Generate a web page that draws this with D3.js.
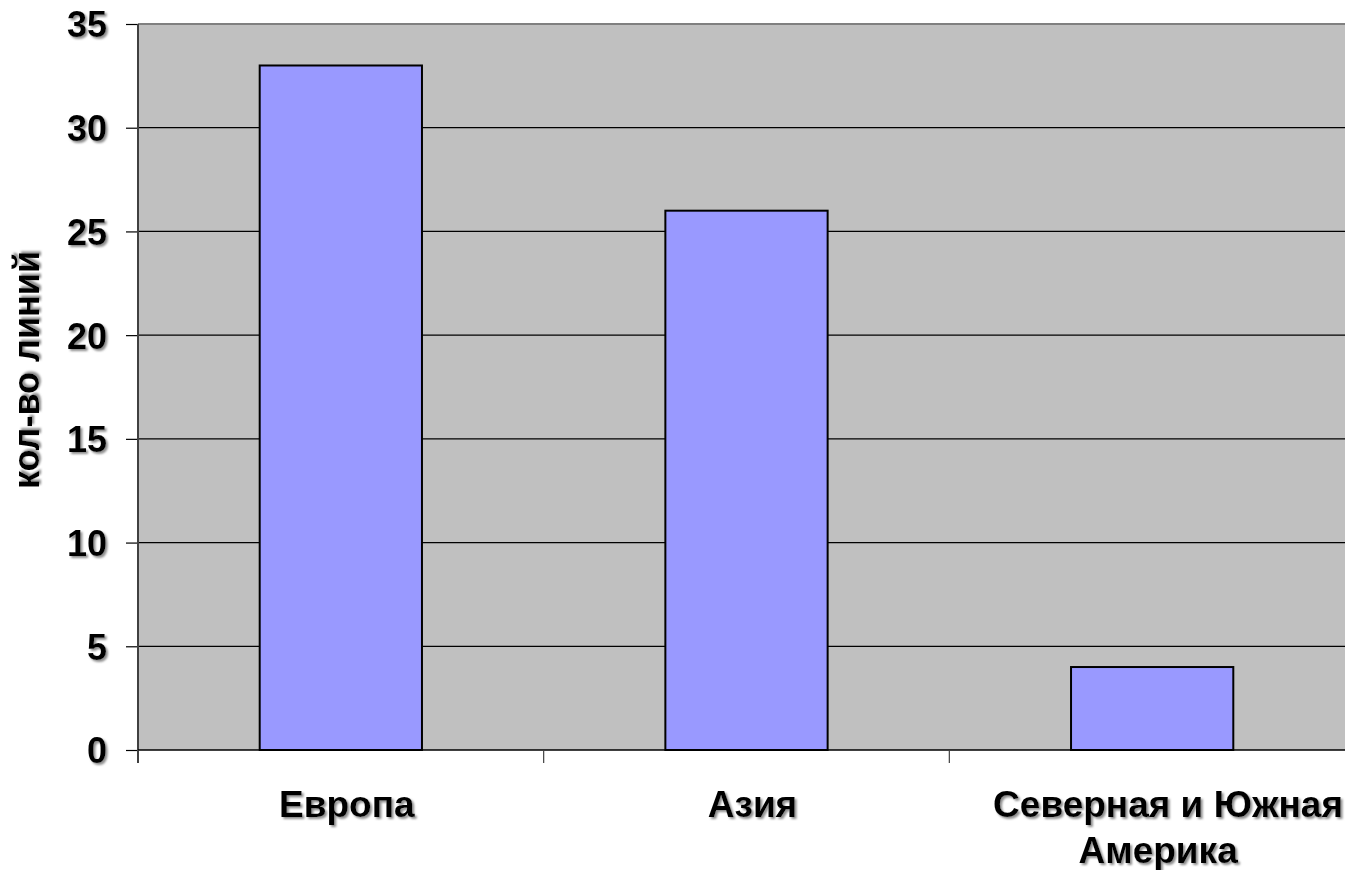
<!DOCTYPE html>
<html><head><meta charset="utf-8">
<script src="https://cdn.jsdelivr.net/npm/d3@7"></script>
<style>body{margin:0;background:#fff;overflow:hidden}svg{display:block}text{font-family:"Liberation Sans",Arial,sans-serif;font-weight:bold}</style>
</head><body>
<svg id="c" width="1345" height="870"></svg>
<script>
const categories = ["Европа", "Азия", "Северная и Южная Америка"];
const values = [33, 26, 4];
const yTicks = [0, 5, 10, 15, 20, 25, 30, 35];
const yTitle = "кол-во линий";

const svg = d3.select("#c");
const defs = svg.append("defs");
const f = defs.append("filter").attr("id","sh").attr("x","-10%").attr("y","-10%").attr("width","130%").attr("height","140%");
f.append("feDropShadow").attr("dx",2).attr("dy",2).attr("stdDeviation",0.8).attr("flood-color","#808080").attr("flood-opacity",0.9);

const L = 138, T = 24, B = 750, R = 1355;
const x = d3.scaleBand().domain(categories).range([L, R]).paddingInner(0.6).paddingOuter(0.3);
const y = d3.scaleLinear().domain([0, 35]).range([B, T]);
const step = x.step();
const slot0 = L;

// plot background
svg.append("rect").attr("x", L).attr("y", T).attr("width", R - L).attr("height", B - T).attr("fill", "#c0c0c0");

// gridlines
svg.append("g").selectAll("line").data(yTicks.filter(v => v > 0 && v < 35)).join("line")
  .attr("x1", L).attr("x2", R).attr("y1", d => y(d)).attr("y2", d => y(d))
  .attr("stroke", "#000").attr("stroke-width", 1.2);
// top border
svg.append("line").attr("x1", L).attr("x2", R).attr("y1", y(35)).attr("y2", y(35)).attr("stroke", "#808080").attr("stroke-width", 2);

// bars
svg.append("g").selectAll("rect").data(categories).join("rect")
  .attr("x", d => x(d)).attr("width", x.bandwidth())
  .attr("y", (d, i) => y(values[i])).attr("height", (d, i) => B - y(values[i]))
  .attr("fill", "#9999ff").attr("stroke", "#000").attr("stroke-width", 2);

// y axis
const yAxis = d3.axisLeft(y).tickValues(yTicks).tickSize(12).tickPadding(19).tickFormat(d3.format("d"));
const gy = svg.append("g").attr("transform", `translate(${L},0)`).call(yAxis);
gy.select(".domain").remove();
gy.selectAll(".tick line").attr("stroke", "#000").attr("stroke-width", 1.2);
gy.selectAll(".tick text").attr("font-size", 36).attr("fill", "#000").attr("font-family", "Liberation Sans, Arial, sans-serif").attr("font-weight", "bold").attr("filter", "url(#sh)").attr("dy", "0.36em");
svg.append("line").attr("x1", L).attr("x2", L).attr("y1", T).attr("y2", B + 13).attr("stroke", "#404040").attr("stroke-width", 2);
svg.append("line").attr("x1", L).attr("x2", R).attr("y1", B).attr("y2", B).attr("stroke", "#000").attr("stroke-width", 1.5);

// x category ticks
const bounds = d3.range(categories.length + 1).map(i => slot0 + i * step);
svg.append("g").selectAll("line").data(bounds).join("line")
  .attr("x1", d => d).attr("x2", d => d).attr("y1", B).attr("y2", B + 13)
  .attr("stroke", "#404040").attr("stroke-width", 1.2);

// x labels with wrapping
const lab = svg.append("g").selectAll("text").data(categories).join("text")
  .attr("text-anchor", "middle").attr("font-size", 37).attr("fill", "#000").attr("filter", "url(#sh)")
  .attr("x", d => x(d) + x.bandwidth() / 2 + 6).attr("y", 817);
lab.each(function(d) {
  const t = d3.select(this);
  const words = d.split(" ");
  const lines = [];
  let cur = [];
  const probe = t.append("tspan");
  words.forEach(w => {
    const trial = cur.concat([w]).join(" ");
    probe.text(trial);
    if (probe.node().getComputedTextLength() > 380 && cur.length) { lines.push(cur.join(" ")); cur = [w]; }
    else cur.push(w);
  });
  lines.push(cur.join(" "));
  probe.remove();
  const cx = +t.attr("x");
  lines.forEach((ln, i) => {
    const ts = t.append("tspan").attr("x", cx).attr("dy", i === 0 ? 0 : 46).text(ln);
    const w = ts.node().getComputedTextLength();
    // a line that runs near the right edge is pushed flush to it
    if (cx + w / 2 > 1330) ts.attr("x", 1343 - w / 2);
  });
});

// y title
svg.append("text").attr("transform", `translate(39,370) rotate(-90)`)
  .attr("text-anchor", "middle").attr("font-size", 36).attr("fill", "#000").attr("filter", "url(#sh)")
  .text(yTitle);
</script>
</body></html>
